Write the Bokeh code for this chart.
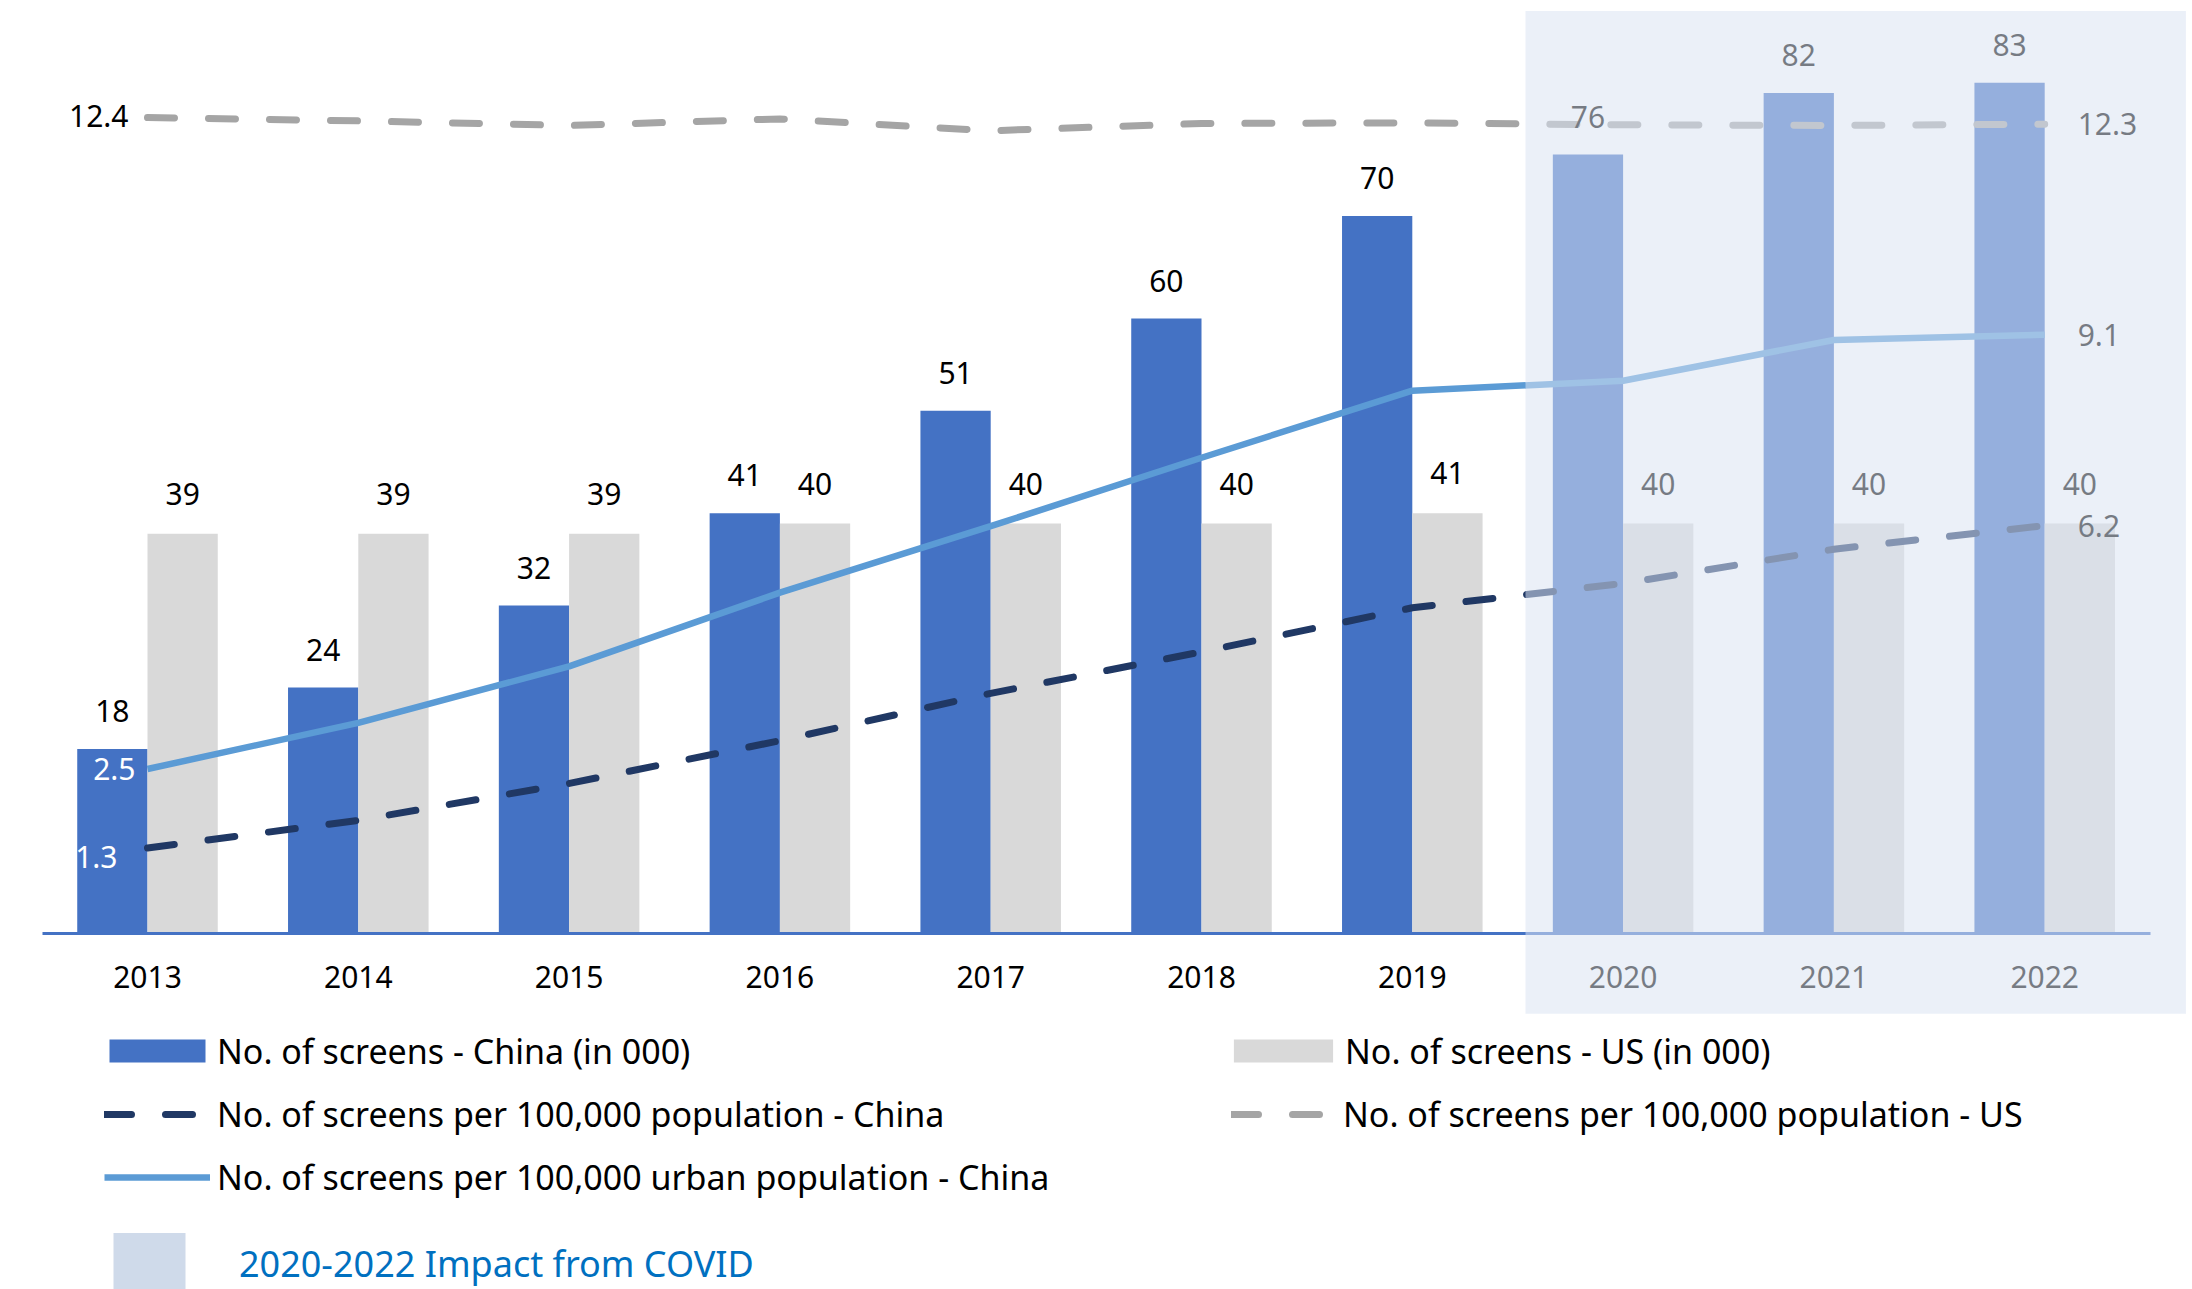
import numpy as np
from bokeh.plotting import figure
from bokeh.models import (ColumnDataSource, Range1d, FixedTicker, Legend, LegendItem,
                          BoxAnnotation)
from bokeh.core.properties import value
from bokeh.embed import file_html
from bokeh.resources import INLINE

# ---------------- data ----------------
years = ["2013", "2014", "2015", "2016", "2017", "2018", "2019", "2020", "2021", "2022"]
china_screens = [18, 24, 32, 41, 51, 60, 70, 76, 82, 83]          # in 000
us_screens = [39, 39, 39, 40, 40, 40, 41, 40, 40, 40]             # in 000
china_per100k = [1.3, 1.72, 2.28, 2.93, 3.65, 4.28, 4.95, 5.32, 5.84, 6.2]
china_urban_per100k = [2.5, 3.2, 4.06, 5.18, 6.19, 7.23, 8.25, 8.4, 9.02, 9.1]
us_per100k = [12.4, 12.35, 12.28, 12.38, 12.2, 12.31, 12.32, 12.29, 12.28, 12.3]
covid_years = ["2020", "2021", "2022"]

# ---------------- layout constants (pixels) ----------------
W, H = 2192, 1289
cat_px = 210.8          # width of one category
first_px = 147.0        # x of first category centre
base_px = 933.0         # y of the zero line from top
px_unit = 10.25         # px per 000 screens
px_unit2 = 65.8         # px per screen/100k

FONT = value("Noto Sans")
BLUE, GREY = "#4472C4", "#D9D9D9"
DARK, LIGHT, LGREY = "#203864", "#5B9BD5", "#A5A5A5"

n = len(years)
idx = np.arange(n)

p = figure(width=W, height=H, output_backend="svg", toolbar_location=None,
           x_range=Range1d(-first_px / cat_px, (W - first_px) / cat_px),
           y_range=Range1d(-(H - base_px) / px_unit, base_px / px_unit),
           y_axis_location=None, min_border=0, outline_line_color=None,
           background_fill_color="white", border_fill_color="white")
p.extra_y_ranges = {"sec": Range1d(-(H - base_px) / px_unit2, base_px / px_unit2)}
p.xgrid.visible = False
p.ygrid.visible = False

src = ColumnDataSource(dict(
    xc=idx - 1/6, xu=idx + 1/6, china=china_screens, us=us_screens,
    china_t=[str(v) for v in china_screens], us_t=[str(v) for v in us_screens],
    x=idx, cp=china_per100k, cu=china_urban_per100k, up=us_per100k))

r_cbar = p.vbar(x="xc", top="china", width=1/3, source=src, fill_color=BLUE, line_color=None)
r_ubar = p.vbar(x="xu", top="us", width=1/3, source=src, fill_color=GREY, line_color=None)

r_up = p.line(x="x", y="up", source=src, y_range_name="sec", line_color=LGREY,
              line_width=7, line_dash="27 34", line_cap="round")
r_cu = p.line(x="x", y="cu", source=src, y_range_name="sec", line_color=LIGHT,
              line_width=6.5)
r_cp = p.line(x="x", y="cp", source=src, y_range_name="sec", line_color=DARK,
              line_width=7, line_dash="27 34", line_cap="round")

# bar value labels
p.text(x="xc", y="china", text="china_t", source=src, text_font=FONT, text_font_size="30px",
       text_color="black", text_align="center", text_baseline="alphabetic", y_offset=-38)
p.text(x="xu", y="us", text="us_t", source=src, text_font=FONT, text_font_size="30px",
       text_color="black", text_align="center", text_baseline="alphabetic", y_offset=-40)

# line end labels
first, last = 0, n - 1
left_lab = ColumnDataSource(dict(
    x=[first] * 3, y=[us_per100k[first], china_urban_per100k[first], china_per100k[first]],
    t=[f"{us_per100k[first]:.1f}", f"{china_urban_per100k[first]:.1f}", f"{china_per100k[first]:.1f}"],
    c=["black", "white", "white"], xo=[-19, -12, -30], yo=[-2, 0, 9]))
p.text(x="x", y="y", text="t", source=left_lab, y_range_name="sec", text_font=FONT,
       text_font_size="30px", text_color="c", text_align="right", text_baseline="middle",
       x_offset="xo", y_offset="yo")
right_lab = ColumnDataSource(dict(
    x=[last] * 3, y=[us_per100k[last], china_urban_per100k[last], china_per100k[last]],
    t=[f"{us_per100k[last]:.1f}", f"{china_urban_per100k[last]:.1f}", f"{china_per100k[last]:.1f}"]))
p.text(x="x", y="y", text="t", source=right_lab, y_range_name="sec", text_font=FONT,
       text_font_size="30px", text_color="black", text_align="left", text_baseline="middle",
       x_offset=33)

# x axis at zero
ax = p.xaxis[0]
ax.fixed_location = 0
ax.bounds = (-0.5, n - 0.5)
ax.ticker = FixedTicker(ticks=list(idx))
ax.major_label_overrides = {int(i): y for i, y in zip(idx, years)}
ax.axis_line_color = BLUE
ax.axis_line_width = 3
ax.major_tick_line_color = None
ax.minor_tick_line_color = None
ax.major_label_text_font = "Noto Sans"
ax.major_label_text_font_size = "30px"
ax.major_label_text_color = "black"
ax.major_label_standoff = 26

# covid overlay
c0 = years.index(covid_years[0])
c1 = years.index(covid_years[-1])
p.add_layout(BoxAnnotation(left=c0 - 0.463, right=c1 + 0.67, top=90.0, bottom=-7.83,
                           fill_color="#DAE3F2", fill_alpha=0.54, line_color=None,
                           level="overlay"))

# zero-area quad that only supplies the legend swatch for the COVID period
r_covid = p.quad(left=[c0], right=[c0], top=[0], bottom=[0], fill_color="#CFDAEA",
                 line_color=None)

def make_legend(items, loc, gw, gh, lh, standoff, size="34px", color="black", spacing=0):
    lg = Legend(items=items, location=loc, orientation="vertical",
                glyph_width=gw, glyph_height=gh, label_height=lh, label_standoff=standoff,
                spacing=spacing, padding=0, margin=0, border_line_color=None,
                background_fill_alpha=0, label_text_font="Noto Sans",
                label_text_font_size=size, label_text_color=color)
    p.add_layout(lg, "center")
    return lg

def loc(page_x, page_top, h):
    return (page_x, H - h - page_top)

make_legend([LegendItem(label="No. of screens - China (in 000)", renderers=[r_cbar])],
            loc(97, 1026.5, 48), 120, 29, 48, 0)
make_legend([LegendItem(label="No. of screens per 100,000 population - China", renderers=[r_cp]),
             LegendItem(label="No. of screens per 100,000 urban population - China", renderers=[r_cu])],
            loc(104, 1089.5, 2 * 48 + 15), 106, 48, 48, 7, spacing=15)
make_legend([LegendItem(label="No. of screens - US (in 000)", renderers=[r_ubar])],
            loc(1221, 1026.5, 48), 124, 29, 48, 0)
make_legend([LegendItem(label="No. of screens per 100,000 population - US", renderers=[r_up])],
            loc(1231, 1089.5, 48), 95, 48, 48, 17)
make_legend([LegendItem(label="2020-2022 Impact from COVID", renderers=[r_covid])],
            loc(104, 1225, 76), 90, 76, 76, 45, size="36px", color="#0070C0")

open("out.html", "w").write(file_html(p, INLINE))
